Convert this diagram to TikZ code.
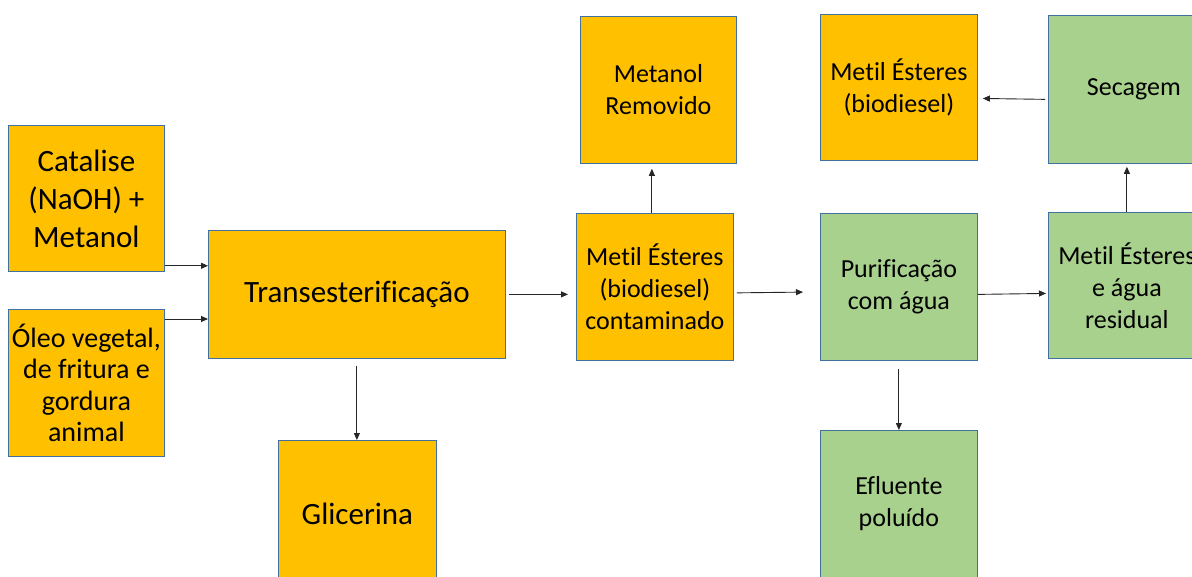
\documentclass[tikz,border=0pt]{standalone}
\usepackage{fontspec}
\setmainfont[Ligatures=NoCommon]{Carlito}
\usetikzlibrary{arrows.meta}
\definecolor{boxorange}{HTML}{FFC000}
\definecolor{boxgreen}{HTML}{A9D18E}
\definecolor{boxedge}{HTML}{41719C}
\tikzset{
  blk/.style={draw=boxedge, line width=0.8pt, anchor=north west, inner sep=0pt,
    align=center, text=black},
  orangeblk/.style={blk, fill=boxorange},
  greenblk/.style={blk, fill=boxgreen},
  big/.style={font=\fontsize{31}{38}\selectfont},
  mid/.style={font=\fontsize{31}{37}\selectfont},
  small/.style={font=\fontsize{26}{32}\selectfont},
  dense/.style={font=\fontsize{28}{31.5}\selectfont},
  arr/.style={draw=black!85, line width=0.9pt, -{Triangle[length=7pt,width=6pt]}},
}
\begin{document}
\begin{tikzpicture}[x=1pt,y=-1pt]
\useasboundingbox (0,0) rectangle (1192,577);
\clip (0,0) rectangle (1192,577);
% raw materials
\node[orangeblk, big, minimum width=156pt, minimum height=146pt] (cat) at (8,125)
  {Catalise\\(NaOH) +\\Metanol};
\node[orangeblk, dense, minimum width=156pt, minimum height=147pt] (oleo) at (8,309)
  {Óleo vegetal,\\de fritura e\\gordura\\animal};
% reaction
\node[orangeblk, mid, minimum width=297pt, minimum height=128pt] (trans) at (208,230)
  {Transesterificação};
\node[orangeblk, mid, minimum width=158pt, minimum height=147pt] (glic) at (278,440)
  {Glicerina};
% crude product and methanol recovery
\node[orangeblk, small, minimum width=156pt, minimum height=147pt] (metrem) at (580,16)
  {Metanol\\Removido};
\node[orangeblk, small, minimum width=157pt, minimum height=147pt] (mec) at (576,213)
  {Metil Ésteres\\(biodiesel)\\contaminado};
% washing
\node[greenblk, small, minimum width=157pt, minimum height=147pt] (pur) at (820,213)
  {Purificação\\com água};
\node[greenblk, small, minimum width=157pt, minimum height=147pt] (efl) at (820,430)
  {Efluente\\poluído};
\node[greenblk, small, minimum width=157pt, minimum height=146pt] (mear) at (1048,212)
  {Metil Ésteres\\e água\\residual};
% drying and final product
\node[greenblk, small, minimum width=157pt, minimum height=148pt] (sec) at (1048,15)
  {\hspace*{14pt}\raisebox{3pt}{Secagem}};
\node[orangeblk, small, minimum width=157pt, minimum height=146pt] (meb) at (820,14)
  {Metil Ésteres\\(biodiesel)};
% flows
\draw[arr] ([yshift=6pt]cat.south east) -- ([yshift=6pt]cat.south east -| trans.west);
\draw[arr] ([yshift=-10pt]oleo.north east) -- ([yshift=-10pt]oleo.north east -| trans.west);
\draw[arr, shorten <=3pt, shorten >=8pt] (trans.east) -- (trans.east -| mec.west);
\draw[arr, shorten <=7pt] (trans.south) -- (trans.south |- glic.north);
\draw[arr, shorten >=5pt] ([xshift=-3pt]mec.north) -- ([xshift=-3pt]mec.north |- metrem.south);
\draw[arr, shorten <=3pt, shorten >=17pt] ([yshift=-6pt]mec.east) -- ([yshift=-5pt]pur.west);
\draw[arr, shorten <=8pt] (pur.south) -- (efl.north);
\draw[arr, shorten >=2pt] ([yshift=-7.5pt]pur.east) -- ([yshift=-8pt]mear.west);
\draw[arr, shorten >=3pt] (mear.north) -- (sec.south);
\draw[arr, shorten <=3pt, shorten >=5pt] ([yshift=-10pt]sec.west) -- ([yshift=-11pt]meb.east);
\end{tikzpicture}
\end{document}
